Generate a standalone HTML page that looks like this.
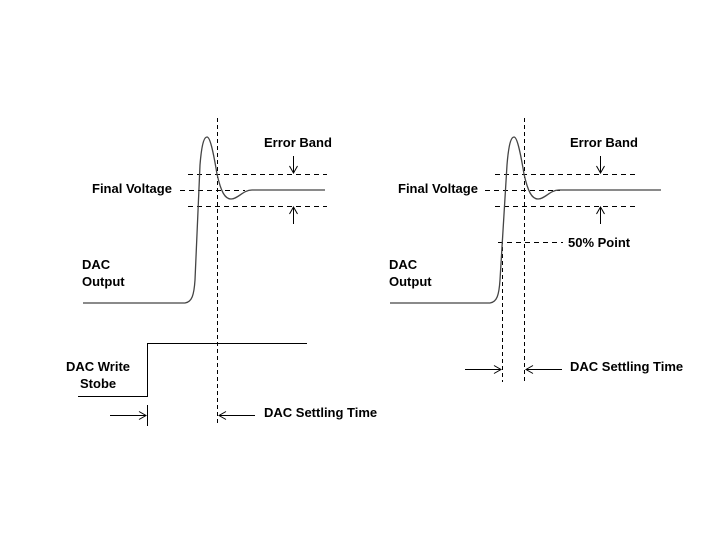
<!DOCTYPE html>
<html><head><style>
html,body{margin:0;padding:0;background:#fff;width:720px;height:540px;overflow:hidden}
text{font-family:"Liberation Sans",sans-serif;font-weight:bold;font-size:13px;fill:#000}
</style></head><body>
<svg width="720" height="540" xmlns="http://www.w3.org/2000/svg">
<defs>
<marker id="a" markerWidth="10" markerHeight="10" refX="9" refY="5" orient="auto" markerUnits="userSpaceOnUse">
<path d="M2,1 L9,5 L2,9" fill="none" stroke="#000" stroke-width="1"/></marker>
</defs>
<g stroke="#000" stroke-width="1" fill="none">
<!-- LEFT -->
<line x1="217.5" y1="118" x2="217.5" y2="426" stroke-dasharray="4,3"/>
<line x1="188" y1="174.5" x2="327" y2="174.5" stroke-dasharray="5,4"/>
<line x1="188" y1="206.5" x2="327" y2="206.5" stroke-dasharray="5,4"/>
<line x1="180" y1="190.5" x2="245" y2="190.5" stroke-dasharray="5,4"/>
<line x1="293.5" y1="156" x2="293.5" y2="173" marker-end="url(#a)"/>
<line x1="293.5" y1="224" x2="293.5" y2="207" marker-end="url(#a)"/>
<path d="M83,303 L185,303 C192,302 194,295 195,280 L200,165 C202,140 205,137 207,137 C210,137 213,150 217,174 C221,192 225,199 231,199 C238,199 243,190 252,190 L325,190" stroke="#444" stroke-width="1.3"/>
<path d="M78,396.5 L147.5,396.5 L147.5,343.5 L307,343.5"/>
<line x1="110" y1="415.5" x2="146" y2="415.5" marker-end="url(#a)"/>
<line x1="147.5" y1="405" x2="147.5" y2="426"/>
<line x1="255" y1="415.5" x2="219" y2="415.5" marker-end="url(#a)"/>
<!-- RIGHT -->
<line x1="524.5" y1="118" x2="524.5" y2="382" stroke-dasharray="4,3"/>
<line x1="502.5" y1="240" x2="502.5" y2="382" stroke-dasharray="4,3"/>
<line x1="495" y1="174.5" x2="635" y2="174.5" stroke-dasharray="5,4"/>
<line x1="495" y1="206.5" x2="635" y2="206.5" stroke-dasharray="5,4"/>
<line x1="485" y1="190.5" x2="560" y2="190.5" stroke-dasharray="5,4"/>
<line x1="498" y1="242.5" x2="563" y2="242.5" stroke-dasharray="5,4"/>
<line x1="600.5" y1="156" x2="600.5" y2="173" marker-end="url(#a)"/>
<line x1="600.5" y1="224" x2="600.5" y2="207" marker-end="url(#a)"/>
<path d="M390,303 L490,303 C497,302 499,295 500,280 L507,165 C509,140 512,137 514,137 C517,137 520,150 524,174 C528,192 532,199 538,199 C545,199 550,190 559,190 L661,190" stroke="#444" stroke-width="1.3"/>
<line x1="465" y1="369.5" x2="501" y2="369.5" marker-end="url(#a)"/>
<line x1="562" y1="369.5" x2="526" y2="369.5" marker-end="url(#a)"/>
</g>
<text x="264" y="147">Error Band</text>
<text x="92" y="193">Final Voltage</text>
<text x="82" y="269">DAC</text>
<text x="82" y="286">Output</text>
<text x="66" y="371">DAC Write</text>
<text x="80" y="388">Stobe</text>
<text x="264" y="417">DAC Settling Time</text>
<text x="570" y="147">Error Band</text>
<text x="398" y="193">Final Voltage</text>
<text x="568" y="247">50% Point</text>
<text x="389" y="269">DAC</text>
<text x="389" y="286">Output</text>
<text x="570" y="371">DAC Settling Time</text>
</svg>
</body></html>
